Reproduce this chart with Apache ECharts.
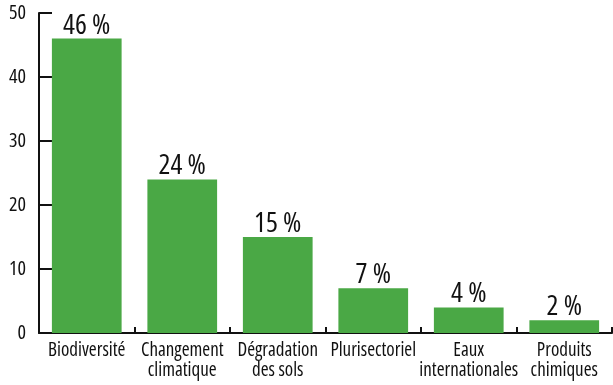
<!DOCTYPE html>
<html>
<head>
<meta charset="utf-8">
<script src="https://cdn.jsdelivr.net/npm/echarts@6/dist/echarts.min.js"></script>
<style>
  html, body { margin: 0; padding: 0; background: #fff; }
  #chart { width: 613px; height: 385px; }
</style>
</head>
<body>
<div id="chart"></div>
<script>
// Share of funding by focal area (%)
const categories = ['Biodiversité', 'Changement\nclimatique', 'Dégradation\ndes sols', 'Plurisectoriel', 'Eaux\ninternationales', 'Produits\nchimiques'];
const values = [46, 24, 15, 7, 4, 2];
const yTicks = [0, 10, 20, 30, 40, 50];

// Condensed width of the Open Sans variable font (goes into the canvas font shorthand)
const FONT = '"Open Sans", sans-serif';
const STRETCH = 'condensed';

const chart = echarts.init(document.getElementById('chart'));
chart.setOption({
  animation: false,
  grid: { left: 39, right: 1, top: 13, bottom: 52, containLabel: false },
  xAxis: {
    type: 'category',
    data: categories,
    axisLine: { lineStyle: { color: '#111', width: 2 } },
    axisTick: { show: true, inside: true, length: 6, alignWithLabel: false, lineStyle: { color: '#111', width: 2 } },
    axisLabel: { color: '#111', fontFamily: FONT, fontWeight: STRETCH, fontSize: 19, lineHeight: 20, margin: 8, interval: 0 }
  },
  yAxis: {
    type: 'value',
    min: yTicks[0],
    max: yTicks[yTicks.length - 1],
    interval: 10,
    splitLine: { show: false },
    axisLine: { show: true, lineStyle: { color: '#111', width: 2 } },
    axisTick: { show: true, inside: true, length: 13, lineStyle: { color: '#111', width: 2 } },
    axisLabel: { color: '#111', fontFamily: FONT, fontWeight: STRETCH, fontSize: 20, margin: 13, padding: [3, 0, 0, 0] }
  },
  series: [{
    type: 'bar',
    data: values,
    barCategoryGap: '27%',
    itemStyle: { color: '#4aa845' },
    label: {
      show: true,
      position: 'top',
      distance: -1,
      formatter: p => p.value + ' %',
      color: '#111',
      fontFamily: FONT,
      fontWeight: STRETCH,
      fontSize: 28
    }
  }]
});
</script>
</body>
</html>
